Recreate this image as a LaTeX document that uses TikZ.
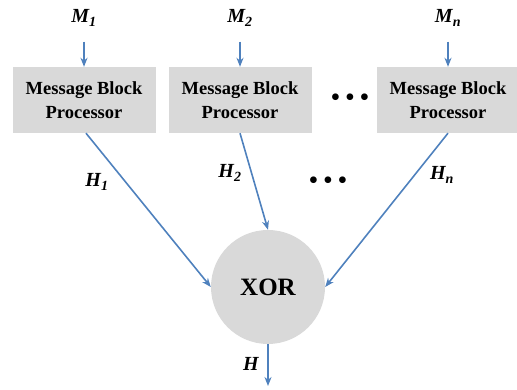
\documentclass[tikz,border=0pt]{standalone}
\usepackage{fontspec}
\setmainfont{Liberation Serif}
\usetikzlibrary{arrows.meta}

\definecolor{mbpGray}{HTML}{D9D9D9}
\definecolor{mbpBlue}{HTML}{4F81BD}

\tikzset{
  procbox/.style={fill=mbpGray,minimum width=143pt,minimum height=66pt,align=center,
    font=\fontsize{18.5}{24}\selectfont\bfseries},
  xorcirc/.style={circle,fill=mbpGray,minimum size=114pt,inner sep=0pt,
    font=\fontsize{25}{28}\selectfont\bfseries},
  varlbl/.style={font=\fontsize{20}{22}\selectfont\bfseries\itshape},
  dotsrow/.style={font=\fontsize{28}{28}\selectfont},
  flow/.style={mbpBlue,line width=1.6pt,-{Stealth[length=9pt,width=7pt]}}
}

\begin{document}
\begin{tikzpicture}[x=1pt,y=1pt]
  \useasboundingbox (0,0) rectangle (517,390);

  % message block processors
  \foreach \nm/\xx/\sub in {b1/84/1,b2/240/2,bn/448/n} {
    \node[procbox] (\nm) at (\xx,290) {Message Block\\Processor};
    \node[varlbl] (m\nm) at (\xx,372) {M\textsubscript{\sub}};
    \draw[flow] ([yshift=-12pt]m\nm.south) -- (\nm.north);
  }

  \node[dotsrow] (dotsa) at (350,290) {\textbullet\,\textbullet\,\textbullet};
  \node[dotsrow] (dotsb) at (328,207) {\textbullet\,\textbullet\,\textbullet};

  \node[xorcirc] (xor) at (268,103) {XOR};
  \coordinate (out) at (268,4);

  \draw[flow] ([xshift=2pt]b1.south) -- (xor.west);
  \draw[flow] (b2.south) -- (xor.north);
  \draw[flow] (bn.south) -- (xor.east);
  \draw[flow] (xor.south) -- (out);

  \node[varlbl] (h1) at (97,208) {H\textsubscript{1}};
  \node[varlbl] (h2) at (230,217) {H\textsubscript{2}};
  \node[varlbl] (hn) at (442,215) {H\textsubscript{n}};
  \node[varlbl] (h) at (251,26) {H};
\end{tikzpicture}
\end{document}
